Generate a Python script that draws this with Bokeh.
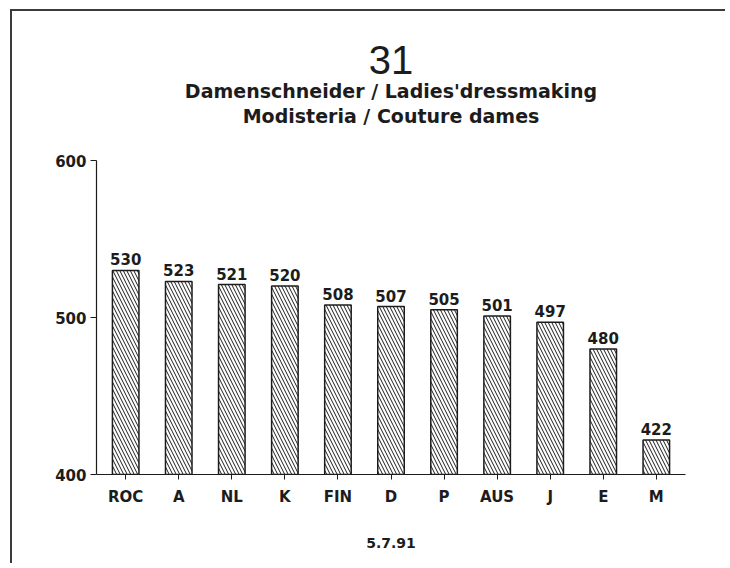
from bokeh.plotting import figure
from bokeh.models import FactorRange, Range1d, FixedTicker, Title, ColumnDataSource
from bokeh.embed import file_html
from bokeh.resources import INLINE
from bokeh.core.properties import value

# ---- data ----
countries = ["ROC", "A", "NL", "K", "FIN", "D", "P", "AUS", "J", "E", "M"]
scores = [530, 523, 521, 520, 508, 507, 505, 501, 497, 480, 422]
y_ticks = [400, 500, 600]
title_number = "31"
title_line1 = "Damenschneider / Ladies'dressmaking"
title_line2 = "Modisteria / Couture dames"
date_text = "5.7.91"

FONT = "DejaVu Sans"
INK = "#1c1c1c"

src = ColumnDataSource(dict(
    x=countries,
    y=scores,
    base=[y_ticks[0]] * len(scores),
    label=[str(v) for v in scores],
))

p = figure(
    x_range=FactorRange(factors=countries, range_padding=0.05, range_padding_units="absolute"),
    y_range=Range1d(y_ticks[0], y_ticks[-1]),
    width=715, height=554,
    output_backend="svg", toolbar_location=None,
    min_border_left=84, min_border_right=42, min_border_top=149, min_border_bottom=91,
    background_fill_color="white", border_fill_color="white",
)
p.styles = {"border-top": "2px solid #3a3a3a", "border-left": "2px solid #3a3a3a",
            "margin-left": "10px", "margin-top": "9px"}

p.vbar(x="x", top="y", bottom="base", width=0.5, source=src,
       fill_color="white", line_color=INK, line_width=1.5,
       hatch_pattern="\\", hatch_color=INK, hatch_scale=7, hatch_weight=1)

p.text(x="x", y="y", text="label", source=src, text_align="center", text_baseline="bottom",
       y_offset=-5, text_font=value(FONT), text_font_style="bold", text_font_size="15px",
       text_color=INK)

p.xgrid.visible = False
p.ygrid.visible = False
p.outline_line_color = None

for ax in (p.xaxis, p.yaxis):
    ax.axis_line_color = INK
    ax.axis_line_width = 1.2
    ax.major_tick_line_color = INK
    ax.major_tick_in = 0
    ax.minor_tick_line_color = None
    ax.major_label_text_font = FONT
    ax.major_label_text_font_style = "bold"
    ax.major_label_text_font_size = "15px"
    ax.major_label_text_color = INK

p.xaxis.major_tick_out = 5
p.xaxis.major_label_standoff = 8
p.xaxis.axis_label = date_text
p.xaxis.axis_label_text_font = FONT
p.xaxis.axis_label_text_font_style = "bold"
p.xaxis.axis_label_text_font_size = "14px"
p.xaxis.axis_label_text_color = INK
p.xaxis.axis_label_standoff = 29

p.yaxis.ticker = FixedTicker(ticks=y_ticks)
p.yaxis.major_tick_out = 6
p.yaxis.major_label_standoff = 4

# outermost title: the big number
p.title.text = title_number
p.title.align = "center"
p.title.text_font = "Liberation Sans"
p.title.text_font_style = "normal"
p.title.text_font_size = "40px"
p.title.text_color = INK
p.title.standoff = 6

# titles added with add_layout stack outward from the plot frame
p.add_layout(Title(text=" ", align="center", text_font_size="2px", standoff=30), "above")
p.add_layout(Title(text=title_line2, align="center", text_font=FONT, text_font_style="bold",
                   text_font_size="19px", text_color=INK, standoff=0), "above")
p.add_layout(Title(text=title_line1, align="center", text_font=FONT, text_font_style="bold",
                   text_font_size="19px", text_color=INK, standoff=2), "above")

open("out.html", "w").write(file_html(p, INLINE))
